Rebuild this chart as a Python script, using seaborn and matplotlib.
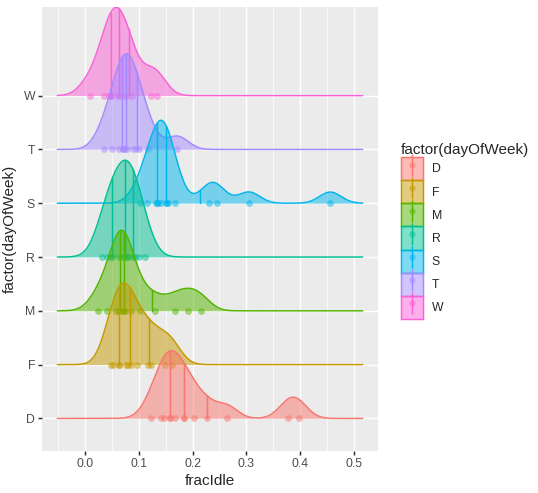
import numpy as np
import pandas as pd
import matplotlib
matplotlib.use("Agg")
import matplotlib.pyplot as plt
import seaborn as sns
from matplotlib.patches import Patch
from matplotlib.lines import Line2D
from matplotlib.legend_handler import HandlerTuple
from matplotlib.ticker import MultipleLocator
from matplotlib.colors import to_rgba

# values
days = ["D", "F", "M", "R", "S", "T", "W"]
colors = ["#F8766D", "#C49A00", "#53B400", "#00C094", "#00B6EB", "#A58AFF", "#FB61D7"]

frac_D = [0.123, 0.141, 0.147, 0.158, 0.158, 0.168, 0.184, 0.184, 0.203, 0.226, 0.264, 0.377, 0.397]
frac_F = [0.049, 0.053, 0.064, 0.064, 0.076, 0.081, 0.086, 0.097, 0.117, 0.122, 0.149, 0.162]
frac_M = [0.024, 0.042, 0.057, 0.064, 0.066, 0.070, 0.072, 0.074, 0.085, 0.103, 0.131, 0.168, 0.192, 0.215]
frac_R = [0.031, 0.041, 0.049, 0.051, 0.063, 0.069, 0.074, 0.079, 0.081, 0.089, 0.093, 0.101, 0.112]
frac_S = [0.103, 0.116, 0.132, 0.134, 0.136, 0.141, 0.150, 0.152, 0.154, 0.168, 0.230, 0.245, 0.305, 0.456]
frac_T = [0.036, 0.050, 0.064, 0.071, 0.071, 0.075, 0.078, 0.090, 0.095, 0.101, 0.118, 0.172]
frac_W = [0.009, 0.035, 0.044, 0.049, 0.049, 0.061, 0.064, 0.073, 0.079, 0.088, 0.122, 0.134]

groups = [frac_D, frac_F, frac_M, frac_R, frac_S, frac_T, frac_W]

df = pd.DataFrame({
    "fracIdle": np.concatenate(groups),
    "dayOfWeek": np.repeat(days, [len(g) for g in groups]),
})


def bw_nrd0(x):
    x = np.asarray(x)
    iqr = np.subtract(*np.quantile(x, [0.75, 0.25]))
    return 0.9 * min(np.std(x, ddof=1), iqr / 1.34) * len(x) ** -0.2


def kde(x, grid, bw):
    x = np.asarray(x)
    z = (grid[:, None] - x[None, :]) / bw
    return np.exp(-0.5 * z ** 2).sum(axis=1) / (len(x) * bw * np.sqrt(2 * np.pi))


# joint bandwidth like ggridges
bw = np.mean([bw_nrd0(g) for g in groups])
x_from = df.fracIdle.min() - 3 * bw
x_to = df.fracIdle.max() + 3 * bw
grid = np.linspace(x_from, x_to, 512)
dens = [kde(g, grid, bw) for g in groups]
scale = 1.8 / max(d.max() for d in dens)

sns.set_theme(style="darkgrid", rc={
    "axes.facecolor": "#EBEBEB",
    "grid.color": "white",
    "xtick.color": "#333333",
    "ytick.color": "#333333",
    "xtick.labelcolor": "#4D4D4D",
    "ytick.labelcolor": "#4D4D4D",
    "xtick.bottom": True,
    "ytick.left": True,
    "xtick.major.size": 2.75,
    "ytick.major.size": 2.75,
    "xtick.major.width": 1.07,
    "ytick.major.width": 1.07,
    "xtick.major.pad": 2.2,
    "ytick.major.pad": 2.2,
    "xtick.labelsize": 8.8,
    "ytick.labelsize": 8.8,
    "axes.labelsize": 11,
})
plt.rcParams["font.family"] = ["Liberation Sans", "DejaVu Sans"]

fig = plt.figure(figsize=(5.38, 4.93), dpi=100)
ax = fig.add_axes([42 / 538, 1 - 450.7 / 493, 336 / 538, 443.4 / 493])

fill_alpha = 0.5
tops = []
for i, (day, col, g, d) in enumerate(zip(days, colors, groups, dens)):
    base = i + 1
    h = d * scale
    tops.append(base + h.max())
    z = 10 + (len(days) - i) * 5
    ax.fill_between(grid, base, base + h, color=col, alpha=fill_alpha, lw=0, zorder=z)
    ax.plot(grid, base + h, color=col, lw=1.07, zorder=z + 1)
    for q in np.quantile(g, [0.25, 0.5, 0.75]):
        ax.plot([q, q], [base, base + np.interp(q, grid, h)], color=col, lw=1.07, zorder=z + 2)
    sub = df[df.dayOfWeek == day]
    sns.scatterplot(x=sub.fracIdle, y=np.full(len(sub), base), color=col, alpha=0.5,
                    s=24, linewidth=0, zorder=z + 3, ax=ax, legend=False)

pad = 0.05 * (x_to - x_from)
ax.set_xlim(x_from - pad, x_to + pad)
ax.set_ylim(0.4, max(tops))
ax.set_xticks(np.arange(0, 0.51, 0.1))
ax.set_xticklabels([f"{v:.1f}" for v in np.arange(0, 0.51, 0.1)])
ax.xaxis.set_minor_locator(MultipleLocator(0.05))
ax.set_yticks(range(1, len(days) + 1))
ax.set_yticklabels(days)
ax.grid(which="major", color="white", lw=1.07)
ax.grid(which="minor", axis="x", color="white", lw=0.53)
ax.tick_params(which="minor", length=0)
ax.set_axisbelow(True)
for s in ax.spines.values():
    s.set_visible(False)
ax.set_xlabel("fracIdle", labelpad=3)
ax.set_ylabel("factor(dayOfWeek)", labelpad=5)

handles = []
for col in colors:
    handles.append((
        Patch(facecolor=to_rgba(col, fill_alpha), edgecolor=col, lw=1.07),
        Line2D([], [], color=col, marker="|", markersize=16, markeredgewidth=1.07, ls="None"),
        Line2D([], [], color=col, marker="o", markersize=4.5, alpha=0.5, markeredgewidth=0, ls="None"),
    ))
fig.legend(handles, days, title="factor(dayOfWeek)", loc="center left",
           bbox_to_anchor=(395 / 538, 1 - 231 / 493), frameon=False, borderpad=0,
           labelspacing=0, handlelength=1.8, handleheight=2.53, handletextpad=0.7,
           fontsize=8.8, title_fontsize=11, alignment="left",
           handler_map={tuple: HandlerTuple(ndivide=1)})

fig.savefig("out.png", dpi=100, facecolor="white")
